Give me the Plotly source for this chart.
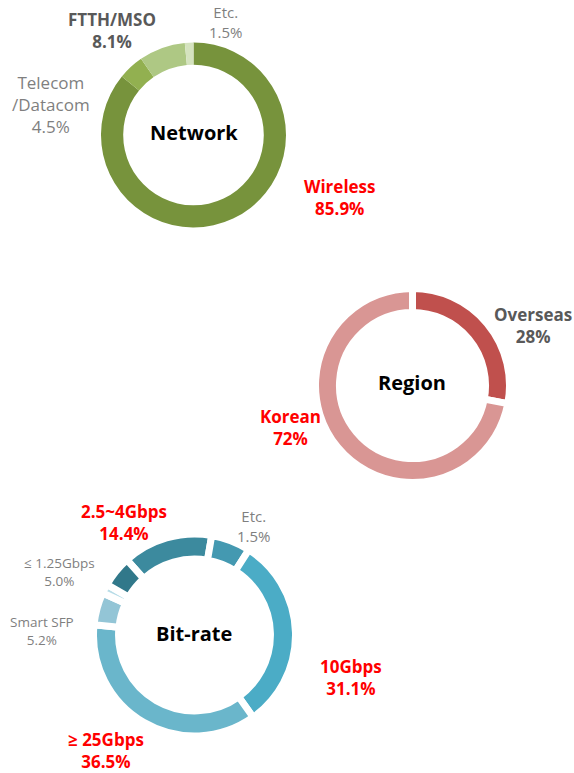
import plotly.graph_objects as go

W, H = 574, 773

# ---------------- data ----------------
network_labels = ["Wireless", "Telecom/Datacom", "FTTH/MSO", "Etc."]
network_values = [85.9, 4.5, 8.1, 1.5]
network_colors = ["#77933C", "#92B050", "#AEC884", "#D5E3BF"]

region_labels = ["Overseas", "Korean"]
region_values = [28, 72]
region_colors = ["#C0504D", "#D99694"]

bitrate_labels = ["2.5~4Gbps", "Etc.", "10Gbps", "≥ 25Gbps", "Smart SFP", "Other", "≤ 1.25Gbps"]
bitrate_values = [14.4, 6.3, 31.1, 36.5, 5.2, 1.5, 5.0]
bitrate_colors = ["#3C8A9E", "#4499B1", "#4BACC6", "#6AB6CB", "#93C5D6", "#B9DDE8", "#31788A"]

FONT = "Open Sans"
RED = "#FF0000"
DGRAY = "#595959"
LGRAY = "#7F7F7F"


def dom(cx, cy, r):
    return dict(x=[(cx - r) / W, (cx + r) / W], y=[1 - (cy + r) / H, 1 - (cy - r) / H])


fig = go.Figure()
fig.add_trace(go.Pie(labels=network_labels, values=network_values, hole=0.76,
                     sort=False, direction="clockwise", rotation=0,
                     marker=dict(colors=network_colors, line=dict(color="white", width=0)),
                     textinfo="none", hoverinfo="label+percent", showlegend=False,
                     domain=dom(193.5, 135, 92.5)))
# white separators also stroke the outer/inner arcs, so radii are padded by half the line width
fig.add_trace(go.Pie(labels=region_labels, values=region_values, hole=0.753,
                     sort=False, direction="clockwise", rotation=0,
                     marker=dict(colors=region_colors, line=dict(color="white", width=7)),
                     textinfo="none", hoverinfo="label+percent", showlegend=False,
                     domain=dom(412.5, 385.5, 97)))
fig.add_trace(go.Pie(labels=bitrate_labels, values=bitrate_values, hole=0.752,
                     sort=False, direction="clockwise", rotation=318,
                     marker=dict(colors=bitrate_colors, line=dict(color="white", width=7)),
                     textinfo="none", hoverinfo="label+percent", showlegend=False,
                     domain=dom(194.5, 635, 101)))

annots = [
    # (text, x, y, size, color, bold)
    ("Network", 194, 133, 20, "#000000", True),
    ("FTTH/MSO<br>8.1%", 112, 31, 17, DGRAY, True),
    ("Etc.<br>1.5%", 226, 22, 15, LGRAY, False),
    ("Telecom<br>/Datacom<br>4.5%", 51, 104, 17, LGRAY, False),
    ("Wireless<br>85.9%", 340, 197, 17, RED, True),

    ("Region", 412, 383, 20, "#000000", True),
    ("Overseas<br>28%", 533, 325, 17, DGRAY, True),
    ("Korean<br>72%", 290, 427, 17, RED, True),

    ("Bit-rate", 194, 633, 20, "#000000", True),
    ("2.5~4Gbps<br>14.4%", 124, 522, 17, RED, True),
    ("Etc.<br>1.5%", 254, 526, 15, LGRAY, False),
    ("≤ 1.25Gbps<br>5.0%", 59, 572, 13.5, LGRAY, False),
    ("Smart SFP<br>5.2%", 42, 631, 13.5, LGRAY, False),
    ("10Gbps<br>31.1%", 351, 677, 17, RED, True),
    ("≥ 25Gbps<br>36.5%", 106, 750, 17, RED, True),
]
for text, x, y, size, color, bold in annots:
    if bold:
        text = "<b>" + text.replace("<br>", "</b><br><b>") + "</b>"
    fig.add_annotation(text=text, x=x / W, y=1 - y / H, xref="paper", yref="paper",
                       xanchor="center", yanchor="middle", showarrow=False,
                       font=dict(family=FONT, size=size, color=color), align="center")

fig.update_layout(width=W, height=H, margin=dict(l=0, r=0, t=0, b=0),
                  paper_bgcolor="white", plot_bgcolor="white",
                  font=dict(family=FONT))

fig.write_html("out.html", config={"displayModeBar": False},
               post_script="document.body.style.margin='0';")
